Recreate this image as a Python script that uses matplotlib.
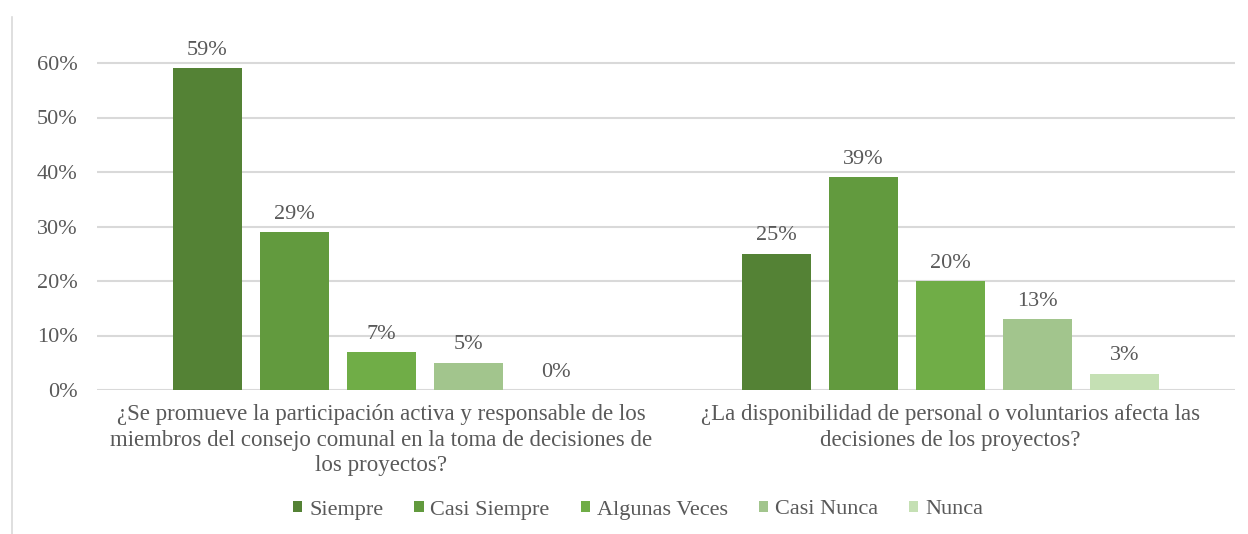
import matplotlib.pyplot as plt
from matplotlib.patches import Rectangle
from matplotlib.lines import Line2D
import numpy as np

plt.rcParams['font.family'] = ['Liberation Serif', 'DejaVu Serif']

# data
preguntas = [
    "¿Se promueve la participación activa y responsable de los\n"
    "miembros del consejo comunal en la toma de decisiones de\n"
    "los proyectos?",
    "¿La disponibilidad de personal o voluntarios afecta las\n"
    "decisiones de los proyectos?",
]
respuestas = ["Siempre", "Casi Siempre", "Algunas Veces", "Casi Nunca", "Nunca"]
siempre = [0.59, 0.25]
casi_siempre = [0.29, 0.39]
algunas_veces = [0.07, 0.20]
casi_nunca = [0.05, 0.13]
nunca = [0.00, 0.03]
yticks = [0.0, 0.1, 0.2, 0.3, 0.4, 0.5, 0.6, 0.7]

series = [siempre, casi_siempre, algunas_veces, casi_nunca, nunca]
colores = ['#548235', '#629A3E', '#70AD47', '#A2C58D', '#C5E0B4']
gris = '#595959'

W, H = 1248, 534
fig = plt.figure(figsize=(W / 100, H / 100), dpi=100)
ax = fig.add_axes([97 / W, 1 - 390 / H, (1235 - 97) / W, (390 - 8.5) / H])

x = np.arange(len(preguntas))
paso = 87 / 569
ancho = 68.5 / 569
for i, (vals, nombre, c) in enumerate(zip(series, respuestas, colores)):
    pos = x + (i - 2) * paso
    bars = ax.bar(pos, vals, ancho, color=c, label=nombre, zorder=3)
    for b, v in zip(bars, vals):
        ax.annotate('{:.0f}%'.format(v * 100), (b.get_x() + b.get_width() / 2, v),
                    xytext=(0, 6), textcoords='offset points', ha='center', va='bottom',
                    fontsize=16, color=gris)

ax.set_xlim(-0.5, 1.5)
ax.set_ylim(0, 0.7)
ax.set_yticks(yticks)
ax.set_yticklabels(['{:.0f}%'.format(t * 100) for t in yticks])
ax.set_xticks(x)
ax.set_xticklabels(preguntas, linespacing=1.3)
ax.tick_params(axis='y', length=0, pad=14, labelsize=16, labelcolor=gris)
ax.tick_params(axis='x', length=0, pad=10, labelsize=16.5, labelcolor=gris)
ax.grid(axis='y', color='#D9D9D9', linewidth=1.5, zorder=0)
for s in ax.spines.values():
    s.set_visible(False)

leg = fig.legend(loc='center', bbox_to_anchor=(638 / W, 1 - 510 / H), ncol=5, frameon=False,
                 fontsize=16, labelcolor=gris, handlelength=0.42, handleheight=0.42,
                 handletextpad=0.3, columnspacing=1.4)

# borde del grafico y recorte superior
fig.add_artist(Line2D([12 / W, 12 / W], [0, 1 - 15 / H], transform=fig.transFigure,
                      color='#D9D9D9', linewidth=1.2))
fig.add_artist(Rectangle((0, 1 - 15 / H), 1, 15 / H, transform=fig.transFigure,
                         color='white', zorder=10))

fig.savefig('out.png', dpi=100)
